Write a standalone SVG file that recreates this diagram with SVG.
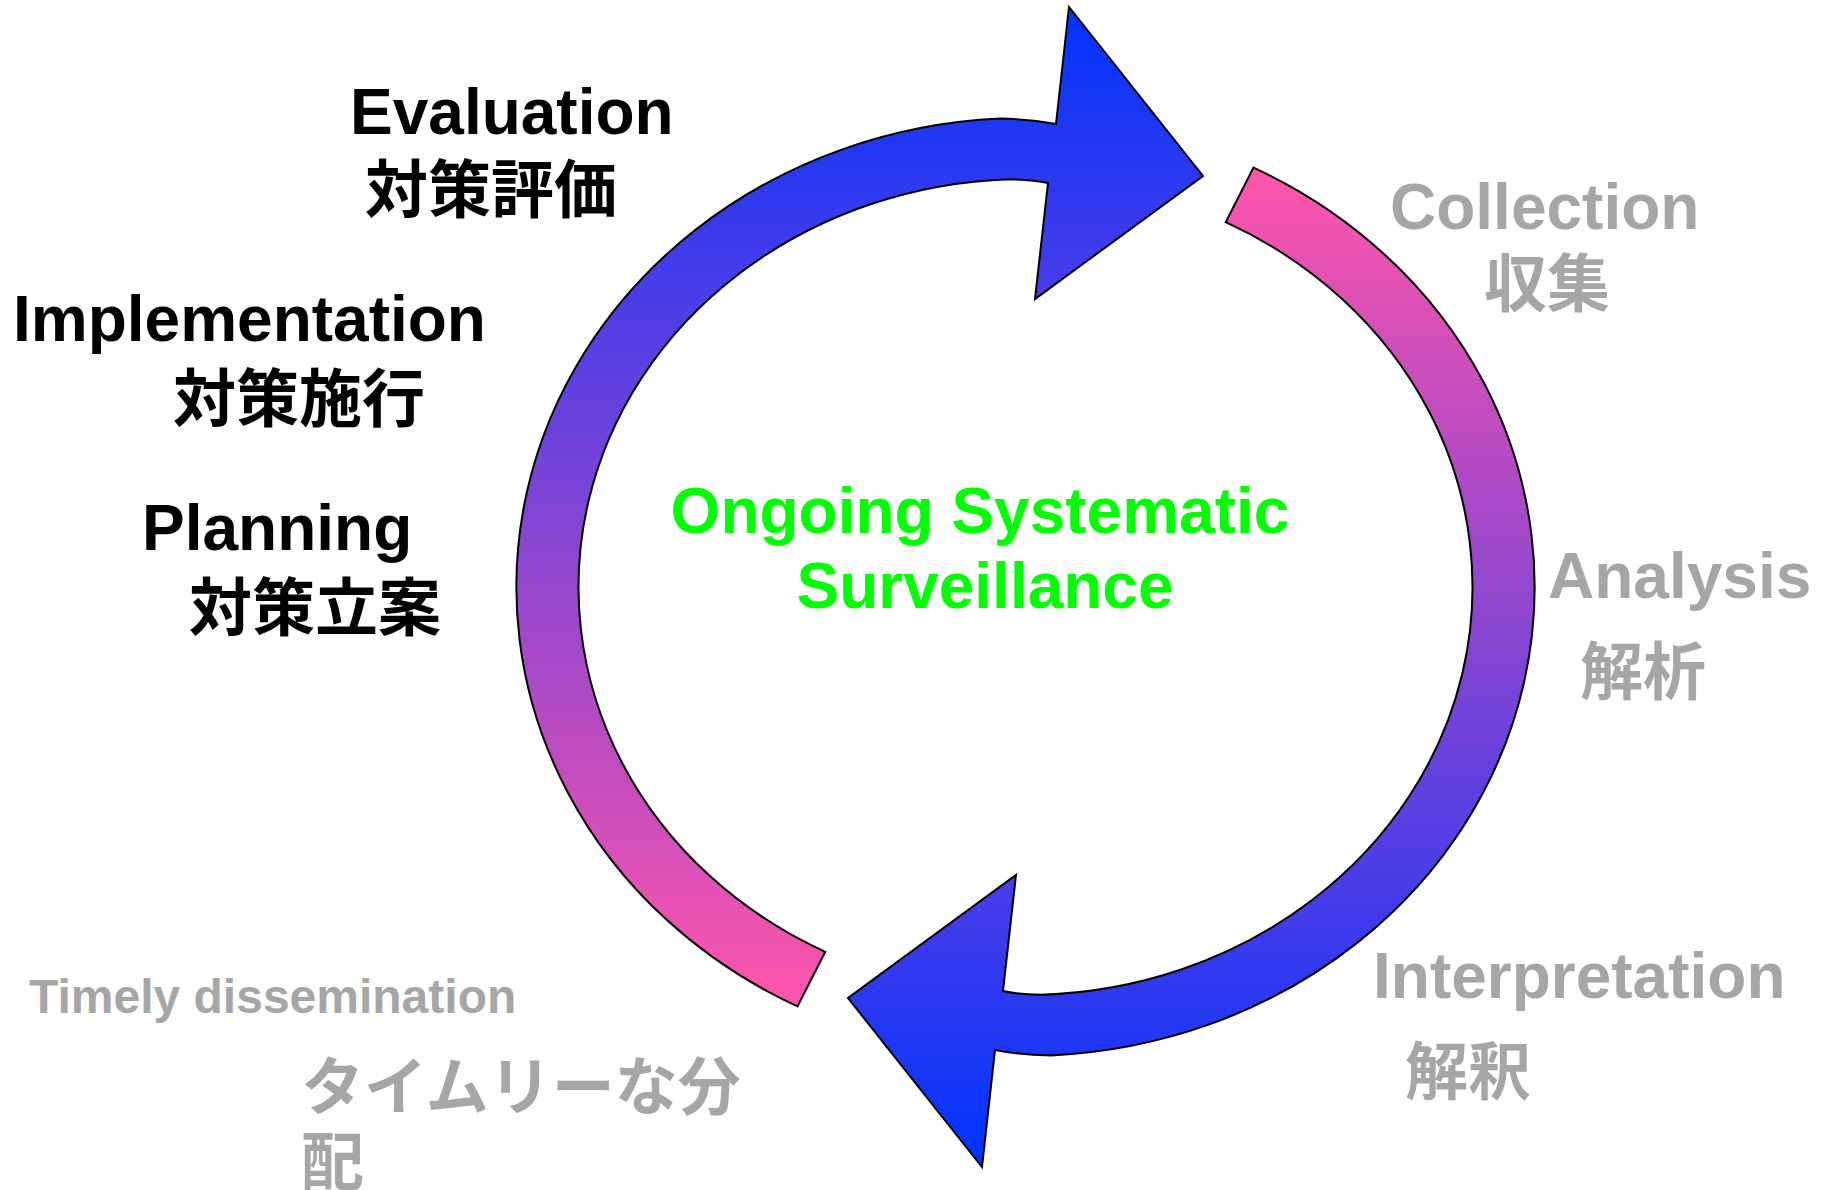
<svg xmlns="http://www.w3.org/2000/svg" width="1829" height="1190" viewBox="0 0 1829 1190">
  <defs>
    <linearGradient id="gUp" gradientUnits="userSpaceOnUse" x1="0" y1="7" x2="0" y2="1006">
      <stop offset="0" stop-color="#0033ff"/>
      <stop offset="1" stop-color="#ff55aa"/>
    </linearGradient>
    <linearGradient id="gDown" gradientUnits="userSpaceOnUse" x1="0" y1="168" x2="0" y2="1167">
      <stop offset="0" stop-color="#ff55aa"/>
      <stop offset="1" stop-color="#0033ff"/>
    </linearGradient>
    <style>
      .arrow { stroke: #000; stroke-width: 2; stroke-linejoin: miter; }
      .en { font-family: "Liberation Sans", Arial, sans-serif; font-weight: bold; }
      .jp { font-family: "Noto Sans CJK JP", "Noto Sans CJK SC", sans-serif; font-weight: bold; }
      .black { fill: #000; }
      .gray { fill: #a6a6a6; }
      .green { fill: #00ff00; }
    </style>
  </defs>
  <rect width="1829" height="1190" fill="#fff"/>

  <g id="connectors">
    <path id="arrow-upper" class="arrow" fill="url(#gUp)"
      d="M797.5,1006.4 A509,469 0 0 1 1000,118.6 Q1030,119 1056,124 L1069,7 L1203,176 L1035,299 L1048,183 Q1032,179.5 1010,179.25 A447,408 0 0 0 825.3,951.8 Z"/>
    <path id="arrow-lower" class="arrow" fill="url(#gDown)"
      d="M1253.5,167.6 A509,469 0 0 1 1051,1055.4 Q1021,1055 995,1050 L982,1167 L848,998 L1016,875 L1003,991 Q1019,994.5 1041,994.75 A447,408 0 0 0 1225.7,222.2 Z"/>
  </g>

  <g id="center">
    <text class="en green" font-size="64" x="980" y="533" text-anchor="middle">Ongoing Systematic</text>
    <text class="en green" font-size="64" x="985" y="608" text-anchor="middle">Surveillance</text>
  </g>

  <g id="evaluation">
    <text class="en black" font-size="64" x="350" y="134">Evaluation</text>
    <text class="jp black" font-size="63" x="365" y="212">対策評価</text>
  </g>
  <g id="implementation">
    <text class="en black" font-size="64" x="13" y="341">Implementation</text>
    <text class="jp black" font-size="63" x="173" y="421">対策施行</text>
  </g>
  <g id="planning">
    <text class="en black" font-size="64" x="142" y="550">Planning</text>
    <text class="jp black" font-size="63" x="189" y="630">対策立案</text>
  </g>

  <g id="collection">
    <text class="en gray" font-size="64" x="1390" y="229">Collection</text>
    <text class="jp gray" font-size="63" x="1484" y="306">収集</text>
  </g>
  <g id="analysis">
    <text class="en gray" font-size="64" x="1548" y="598">Analysis</text>
    <text class="jp gray" font-size="63" x="1580" y="694">解析</text>
  </g>
  <g id="interpretation">
    <text class="en gray" font-size="64" x="1373" y="998">Interpretation</text>
    <text class="jp gray" font-size="63" x="1405" y="1094">解釈</text>
  </g>
  <g id="dissemination">
    <text class="en gray" font-size="48" x="29" y="1013">Timely dissemination</text>
    <text class="jp gray" font-size="63" x="301" y="1109">タイムリーな分</text>
    <text class="jp gray" font-size="63" x="301" y="1184">配</text>
  </g>
</svg>
